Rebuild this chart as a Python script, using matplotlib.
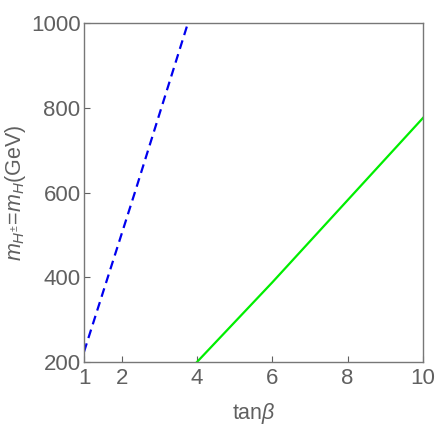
import matplotlib
matplotlib.use("Agg")
import matplotlib.pyplot as plt

# Data
blue_tan = [1.0, 2.35, 3.76]
blue_m = [224, 600, 1000]
green_tan = [4.0, 6.0, 8.0, 10.0]
green_m = [200, 388, 582, 776]

x_ticks = [1, 2, 4, 6, 8, 10]
y_ticks = [200, 400, 600, 800, 1000]

gray = "#606060"
plt.rcParams['font.family'] = ['Liberation Sans', 'DejaVu Sans']
plt.rcParams['mathtext.fontset'] = 'custom'
plt.rcParams['mathtext.rm'] = 'Liberation Sans'
plt.rcParams['mathtext.it'] = 'Liberation Sans:italic'
plt.rcParams['mathtext.bf'] = 'Liberation Sans:bold'

fig = plt.figure(figsize=(4.36, 4.36), dpi=100)
ax = fig.add_axes([84/436, 1-362/436, (423-84)/436, (362-23)/436])

ax.plot(blue_tan, blue_m, color="#0000ee", lw=1.6, linestyle=(0, (4, 2.5)))
ax.plot(green_tan, green_m, color="#00ee00", lw=1.6)

ax.set_xlim(1, 10)
ax.set_ylim(200, 1000)
ax.set_xticks(x_ticks)
ax.set_yticks(y_ticks)
ax.tick_params(axis='both', direction='in', length=4, width=0.8, color=gray,
               labelcolor=gray, labelsize=16)
ax.tick_params(axis='x', pad=4)
ax.tick_params(axis='y', pad=2.5)
for s in ax.spines.values():
    s.set_color("#777777")
    s.set_linewidth(1.0)

ax.set_xlabel(r"tan$\beta$", fontsize=15.5, color=gray, labelpad=9)
ax.set_ylabel(r"$m_{H^{\pm}}$=$m_{H}$(GeV)", fontsize=15.5, color=gray, labelpad=2)

fig.savefig("out.png", dpi=100)
